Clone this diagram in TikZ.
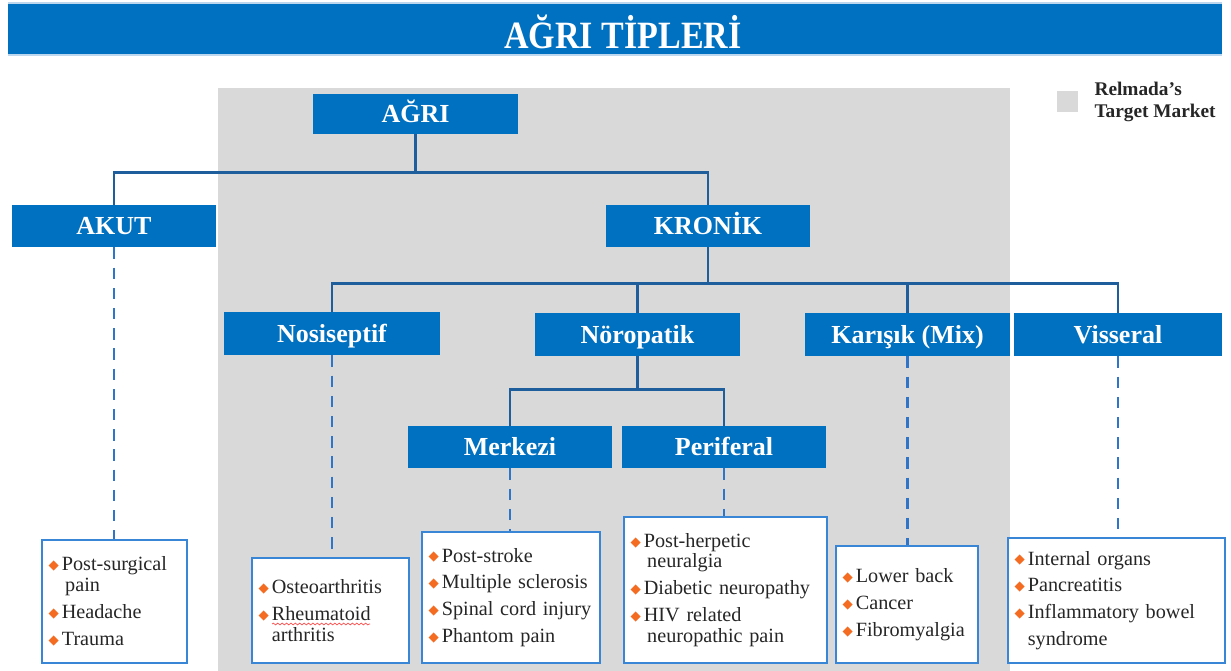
\documentclass[tikz,border=0pt]{standalone}
\usepackage{fontspec}
\setmainfont{Liberation Serif}
\newfontfamily\titlefont[FakeStretch=0.88]{Liberation Serif}
\newfontfamily\symbfont{DejaVu Sans}
\usetikzlibrary{positioning,decorations.pathmorphing}

\definecolor{boxblue}{HTML}{0070C0}
\definecolor{edgeblue}{HTML}{BDD7EE}
\definecolor{linkblue}{HTML}{1F5E9C}
\definecolor{dashblue}{HTML}{2E75C9}
\definecolor{listblue}{HTML}{3A86D6}
\definecolor{bggray}{HTML}{D9D9D9}
\definecolor{bulletorange}{HTML}{F36C21}
\definecolor{itemtext}{HTML}{262626}

\newcommand{\bul}{\makebox[7.6pt][l]{\raisebox{0.6pt}{\textcolor{bulletorange}{\symbfont\fontsize{7.6}{7.6}\selectfont ◆}}}}
\newcommand{\cont}{\hspace*{7.6pt}}

\tikzset{
    typebox/.style={fill=boxblue, text=white, minimum width=4.1cm, minimum height=0.84cm,
        inner sep=0pt, text height=9.8pt, text depth=0pt,
        font=\bfseries\fontsize{14.8}{14.8}\selectfont},
    conn/.style={draw=linkblue, line width=1.4pt},
    dashconn/.style={draw=dashblue, line width=1.4pt, dash pattern=on 6.5pt off 5pt},
    listbox/.style={draw=listblue, fill=white, line width=1.1pt, align=left,
        inner xsep=0.13cm, inner ysep=0pt, text=itemtext,
        font=\fontsize{11.5}{11.9}\selectfont},
}

\begin{document}
\begin{tikzpicture}[x=0.02cm,y=-0.02cm]
        \useasboundingbox (0,0) rectangle (1231,671);
        % title bar
        \fill[boxblue] (8,4) rectangle (1222,54);
        \draw[edgeblue, line width=0.8pt] (8,3) -- (1222,3);
        \draw[edgeblue, line width=0.8pt] (8,55) -- (1222,55);
        \node[text=white, anchor=base, font=\titlefont\bfseries\fontsize{22}{22}\selectfont] (title) at (623,49) {AĞRI TİPLERİ};
        % target market area
        \fill[bggray] (218,88) rectangle (1010,671);
        % legend
        \node[fill=bggray, minimum size=0.42cm, inner sep=0pt] (legsq) at (1067.5,102) {};
        \node[right=0.2cm of legsq, align=left, text=black!85,
            font=\bfseries\fontsize{11}{13}\selectfont] (legtext) {Relmada’s\\Target Market};

        % tree nodes
        \node[typebox, minimum height=0.8cm, minimum width=4.1cm] (agri) at (415.5,114) {AĞRI};
        \node[typebox, minimum width=4.08cm] (akut) at (114,226) {AKUT};
        \node[typebox, minimum width=4.08cm] (kronik) at (708,226) {KRONİK};
        \node[typebox, minimum width=4.32cm, minimum height=0.86cm] (nosi) at (332,333.5) {Nosiseptif};
        \node[typebox, minimum height=0.86cm] (noro) at (637.5,334.5) {Nöropatik};
        \node[typebox, minimum height=0.86cm] (karis) at (907.5,334.5) {Karışık (Mix)};
        \node[typebox, minimum width=4.16cm, minimum height=0.86cm] (viss) at (1118,334.5) {Visseral};
        \node[typebox, minimum width=4.08cm] (merk) at (510,447) {Merkezi};
        \node[typebox, minimum width=4.08cm] (peri) at (724,447) {Periferal};

        % solid links
        \draw[conn] (agri.south) -- ++(0,38) -| (akut.north);
        \draw[conn] (agri.south) -- ++(0,38) -| (kronik.north);
        \draw[conn] (kronik.south) -- ++(0,36) -| (nosi.north);
        \draw[conn] (kronik.south) -- ++(0,36) -| (noro.north);
        \draw[conn] (kronik.south) -- ++(0,36) -| (karis.north);
        \draw[conn] (kronik.south) -- ++(0,36) -| (viss.north);
        \draw[conn] (noro.south) -- ++(0,33) -| (merk.north);
        \draw[conn] (noro.south) -- ++(0,33) -| (peri.north);

        % example lists
        \node[listbox, text width=2.64cm, minimum height=2.46cm] (akutlist) at (114.5,601.5)
            {\bul Post-surgical\\\cont\,pain\\[3.4pt]\bul Headache\\[3.4pt]\bul Trauma};
        \node[listbox, text width=2.88cm, minimum height=2.1cm] (nosilist) at (330.5,610.5)
            {\bul Osteoarthritis\\[3.4pt]\bul Rheumatoid\\\cont arthritis};
        \node[listbox, text width=3.30cm, minimum height=2.62cm] (merklist) at (511,597.5)
            {\bul Post-stroke\\[3.4pt]\bul Multiple sclerosis\\[3.4pt]\bul Spinal cord injury\\[3.4pt]\bul Phantom pain};
        \node[listbox, text width=3.80cm, minimum height=2.92cm] (perilist) at (725.5,590)
            {\bul Post-herpetic\\\cont\,neuralgia\\[3.4pt]\bul Diabetic neuropathy\\[3.4pt]\bul HIV related\\\cont\,neuropathic pain};
        \node[listbox, text width=2.58cm, minimum height=2.34cm] (karislist) at (907,604.5)
            {\bul Lower back\\[3.4pt]\bul Cancer\\[3.4pt]\bul Fibromyalgia};
        \node[listbox, text width=4.08cm, minimum height=2.5cm] (visslist) at (1116.5,600.5)
            {\bul Internal organs\\[3.4pt]\bul Pancreatitis\\[3.4pt]\bul Inflammatory bowel\\[3.4pt]\cont syndrome};
        % spell check squiggle
        \draw[red!70, line width=0.4pt, decorate, decoration={snake, amplitude=0.5pt, segment length=2.5pt}]
            (272,624) -- (370,624);

        % dashed links
        \draw[dashconn] (akut.south) -- (akut.south |- akutlist.north);
        \draw[dashconn] (nosi.south) -- (nosi.south |- nosilist.north);
        \draw[dashconn] (merk.south) -- (merk.south |- merklist.north);
        \draw[dashconn] (peri.south) -- (peri.south |- perilist.north);
        \draw[dashconn] (karis.south) -- (karis.south |- karislist.north);
        \draw[dashconn] (viss.south) -- (viss.south |- visslist.north);
    \end{tikzpicture}
\end{document}
